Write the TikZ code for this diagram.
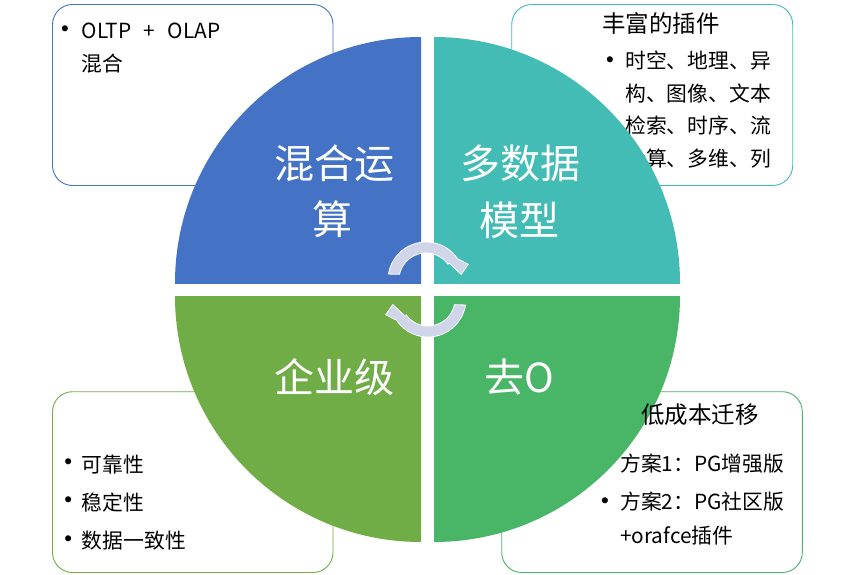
\documentclass[tikz,border=0pt]{standalone}
\usepackage{fontspec}
\newfontfamily\cjk{Noto Sans CJK SC}
\newfontfamily\bulfont{DejaVu Sans}
\definecolor{qblue}{HTML}{4472C4}
\definecolor{qteal}{HTML}{44BCB6}
\definecolor{qgreen}{HTML}{70AD47}
\definecolor{qgreenb}{HTML}{48B567}
\definecolor{arrowfill}{HTML}{D0D5EA}
\begin{document}
\begin{tikzpicture}[x=1pt,y=-1pt,
  box/.style={line width=0.9pt, rounded corners=20pt, inner sep=0pt},
  body/.style={font=\cjk\fontsize{20.8}{25}\selectfont, inner sep=0pt, anchor=west, text=black},
  title/.style={font=\cjk\fontsize{23.5}{28}\selectfont, inner sep=0pt, text=black},
  bul/.style={font=\bulfont\fontsize{20.8}{25}\selectfont, inner sep=0pt, text=black},
  big/.style={font=\cjk\fontsize{40}{48}\selectfont, inner sep=0pt, text=white},
  circarrow/.style={fill=arrowfill, draw=white, line width=0.8pt, line join=miter}]

\useasboundingbox[fill=white] (0,0) rectangle (854,575);

% background boxes
\node[box, draw=qblue, minimum width=280.5pt, minimum height=181pt] (tlbox) at (192.75,95) {};
\node[box, draw=qteal, minimum width=281pt, minimum height=181pt] (trbox) at (652.2,95) {};
\node[box, draw=qgreen, minimum width=280.5pt, minimum height=180.8pt] (blbox) at (192.75,482.1) {};
\node[box, draw=qgreenb, minimum width=300.6pt, minimum height=180.8pt] (brbox) at (652,482.1) {};

% top-left text
\node[bul] (tlb1) at (65,31) {•};
\node[body] (tlt1) at (81.7,30.8) {OLTP\hspace{0.6em}+\hspace{0.6em}OLAP};
\node[body] (tlt2) at (81.7,63.8) {混合};

% top-right text (partly under the circle)
\node[title] (trtitle) at (661,23.3) {丰富的插件};
\node[bul] (trb1) at (610,61.7) {•};
\node[body] (trt1) at (625,61) {时空、地理、异};
\node[body] (trt2) at (625,93.5) {构、图像、文本};
\node[body] (trt3) at (625,126) {检索、时序、流};
\node[body] (trt4) at (625,158.5) {计算、多维、列};

% bottom-left text
\node[bul] (blb1) at (68.3,464.2) {•};
\node[body] (blt1) at (81.7,464.2) {可靠性};
\node[bul] (blb2) at (68.3,502.5) {•};
\node[body] (blt2) at (81.7,502.5) {稳定性};
\node[bul] (blb3) at (68.3,541) {•};
\node[body] (blt3) at (81.7,541) {数据一致性};

% quadrants
\begin{scope}
  \clip (175,37) rectangle (421,283);
  \fill[qblue] (421,283) circle[radius=246];
\end{scope}
\begin{scope}
  \clip (434,37) rectangle (680,283);
  \fill[qteal] (434,283) circle[radius=246];
\end{scope}
\begin{scope}
  \clip (175,296) rectangle (421,542);
  \fill[qgreen] (421,296) circle[radius=246];
\end{scope}
\begin{scope}
  \clip (434,296) rectangle (680,542);
  \fill[qgreenb] (434,296) circle[radius=246];
\end{scope}

% bottom-right text (on top of the circle)
\node[title] (brtitle) at (700,415) {低成本迁移};
\node[body] (brt1) at (620,463.7) {方案1：PG增强版};
\node[bul] (brb2) at (605,503.3) {•};
\node[body] (brt2) at (620,502) {方案2：PG社区版};
\node[body] (brt3) at (620,535.3) {+orafce插件};

% circular arrows
\path[circarrow]
  plot[domain=171:34, samples=40] ({426+38*cos(\x)},{280-38*sin(\x)})
  -- (468.3,264.3) -- (461.2,274.4) -- (449.4,263.3)
  -- plot[domain=36:167.8, samples=40] ({426+27*cos(\x)},{280-27*sin(\x)})
  -- cycle;
\begin{scope}[rotate around={180:(427,289.5)}]
\path[circarrow]
  plot[domain=171:34, samples=40] ({426+38*cos(\x)},{280-38*sin(\x)})
  -- (468.3,264.3) -- (461.2,274.4) -- (449.4,263.3)
  -- plot[domain=36:167.8, samples=40] ({426+27*cos(\x)},{280-27*sin(\x)})
  -- cycle;
\end{scope}

% quadrant labels
\node[big] (q1a) at (334,163.8) {混合运};
\node[big] (q1b) at (332,219.7) {算};
\node[big] (q2a) at (520,163.8) {多数据};
\node[big] (q2b) at (519,220.6) {模型};
\node[big] (q3) at (334,377.3) {企业级};
\node[big] (q4) at (519,377.3) {去O};
\end{tikzpicture}
\end{document}
